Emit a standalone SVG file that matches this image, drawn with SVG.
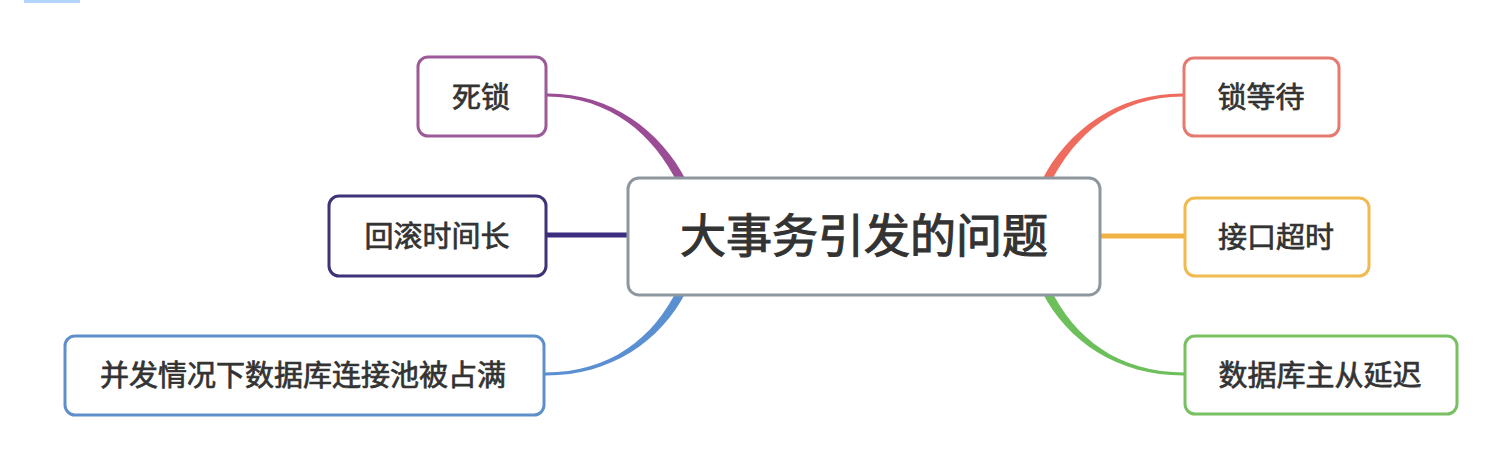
<svg xmlns="http://www.w3.org/2000/svg" width="1498" height="464" viewBox="0 0 1498 464">
<style>
.node rect{fill:#ffffff;stroke-width:3}
.lbl{font-family:"Noto Sans CJK SC","Noto Sans",sans-serif;font-size:29px;font-weight:normal;fill:#333333;stroke:#333333;stroke-width:0.7;text-anchor:middle}
.main{font-size:46px;stroke-width:1.1}
</style>
<rect x="0" y="0" width="1498" height="464" fill="#ffffff"/>
<rect x="24" y="0" width="56" height="3" fill="#b3d4fc"/>
<g id="connectors">
<path d="M547,93.5 C610,93 660.5,130.3 686,180 L678,184 C653.5,134 610,97 547,96.5 Z" fill="#9a4c94"/>
<path d="M1183,93.5 C1118,93 1067.5,130.3 1042,180 L1050,184 C1074.5,134 1118,97 1183,96.5 Z" fill="#ee6b5e"/>
<path d="M545,375.5 C610,376 660.5,341.7 686,292 L678,288 C653.5,338.3 610,372.5 545,372.5 Z" fill="#5a8fd2"/>
<path d="M1185,375.5 C1118,376 1067.5,341.7 1042,292 L1050,288 C1074.5,338.3 1118,372.5 1185,372.5 Z" fill="#6cbf5a"/>
<line x1="545" y1="235" x2="632" y2="235" stroke="#3c2d7f" stroke-width="5"/>
<line x1="1098" y1="236" x2="1186" y2="236" stroke="#f0b445" stroke-width="5"/>
</g>
<g id="node-center" class="node">
<rect x="628" y="178" width="472" height="117" rx="11" stroke="#8f979e"/>
<text class="lbl main" x="864" y="252">大事务引发的问题</text>
</g>
<g id="node-deadlock" class="node">
<rect x="418" y="57" width="128" height="79" rx="10" stroke="#9c5b98"/>
<text class="lbl" x="481" y="108">死锁</text>
</g>
<g id="node-rollback" class="node">
<rect x="329" y="196" width="217" height="80" rx="10" stroke="#3f3278"/>
<text class="lbl" x="437" y="247">回滚时间长</text>
</g>
<g id="node-pool" class="node">
<rect x="65" y="336" width="479" height="79" rx="10" stroke="#5f8fca"/>
<text class="lbl" x="303" y="386">并发情况下数据库连接池被占满</text>
</g>
<g id="node-lockwait" class="node">
<rect x="1184" y="58" width="155" height="78" rx="10" stroke="#e57a71"/>
<text class="lbl" x="1261" y="108">锁等待</text>
</g>
<g id="node-timeout" class="node">
<rect x="1185" y="198" width="184" height="78" rx="10" stroke="#efba4f"/>
<text class="lbl" x="1276" y="248">接口超时</text>
</g>
<g id="node-delay" class="node">
<rect x="1185" y="336" width="272" height="78" rx="10" stroke="#78c062"/>
<text class="lbl" x="1320" y="386">数据库主从延迟</text>
</g>
</svg>
